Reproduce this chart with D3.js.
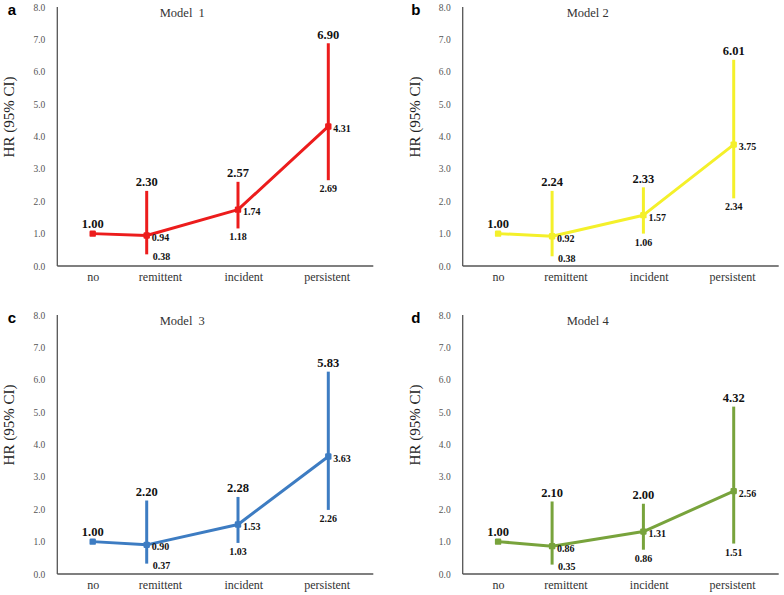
<!DOCTYPE html>
<html>
<head>
<meta charset="utf-8">
<script src="https://cdn.jsdelivr.net/npm/d3@7"></script>
<style>
  html, body { margin: 0; padding: 0; background: #fff; }
  svg { display: block; }
</style>
</head>
<body>
<svg id="chart" width="784" height="595"></svg>
<script>
// ---------------- DATA ----------------
const categories = ["no", "remittent", "incident", "persistent"];
const yTicks = [0, 1, 2, 3, 4, 5, 6, 7, 8];
const panelLetters = ["a", "b", "c", "d"];
const modelTitles = ["Model  1", "Model 2", "Model  3", "Model 4"];
const seriesColors = ["#ec1c1c", "#f4f02a", "#3d7cc2", "#78a33c"];

// hazard ratios (points)
const hrModel1 = [1.00, 0.94, 1.74, 4.31];
const hrModel2 = [1.00, 0.92, 1.57, 3.75];
const hrModel3 = [1.00, 0.90, 1.53, 3.63];
const hrModel4 = [1.00, 0.86, 1.31, 2.56];

// printed CI labels
const upperLabel1 = [null, "2.30", "2.57", "6.90"];
const lowerLabel1 = [null, "0.38", "1.18", "2.69"];
const upperLabel2 = [null, "2.24", "2.33", "6.01"];
const lowerLabel2 = [null, "0.38", "1.06", "2.34"];
const upperLabel3 = [null, "2.20", "2.28", "5.83"];
const lowerLabel3 = [null, "0.37", "1.03", "2.26"];
const upperLabel4 = [null, "2.10", "2.00", "4.32"];
const lowerLabel4 = [null, "0.35", "0.86", "1.51"];

// error-bar extents as drawn in the picture
const barTop1 = [null, 2.32, 2.60, 6.88];
const barBottom1 = [null, 0.36, 1.16, 2.65];
const barTop2 = [null, 2.32, 2.43, 6.37];
const barBottom2 = [null, 0.30, 1.00, 2.09];
const barTop3 = [null, 2.27, 2.38, 6.25];
const barBottom3 = [null, 0.32, 0.96, 1.98];
const barTop4 = [null, 2.24, 2.17, 5.17];
const barBottom4 = [null, 0.29, 0.75, 0.94];

const models = [
  { hr: hrModel1, up: upperLabel1, lo: lowerLabel1, top: barTop1, bot: barBottom1 },
  { hr: hrModel2, up: upperLabel2, lo: lowerLabel2, top: barTop2, bot: barBottom2 },
  { hr: hrModel3, up: upperLabel3, lo: lowerLabel3, top: barTop3, bot: barBottom3 },
  { hr: hrModel4, up: upperLabel4, lo: lowerLabel4, top: barTop4, bot: barBottom4 }
];

// ---------------- LAYOUT ----------------
const panelOrigins = [[57.3, 7], [462.7, 7], [57.3, 315], [462.7, 315]];
const plotW = 316, plotH = 259;
const serif = "'Liberation Serif', 'Times New Roman', serif";
const sans = "'Liberation Sans', Arial, sans-serif";

const svg = d3.select("#chart");

const y = d3.scaleLinear().domain([0, 8]).range([plotH, 0]);
const xPoint = d3.scaleLinear().domain([0, 1, 2, 3]).range([35.4, 89.4, 180.7, 271]);
const xLabel = d3.scaleOrdinal().domain(categories).range([35.4, 102.7, 186, 269.4]);

models.forEach((m, i) => {
  const [ox, oy] = panelOrigins[i];
  const color = seriesColors[i];
  const g = svg.append("g").attr("transform", `translate(${ox},${oy})`);

  // panel letter
  svg.append("text")
    .attr("x", ox - 49.5 + (i % 2 ? -2 : 0)).attr("y", oy + 7.5)
    .attr("font-family", sans).attr("font-weight", "bold").attr("font-size", 15)
    .attr("fill", "#000").text(panelLetters[i]);

  // y axis title
  svg.append("text")
    .attr("transform", `translate(${ox - 43.5 + (i % 2 ? 1 : 0)},${oy + 110}) rotate(-90)`)
    .attr("text-anchor", "middle")
    .attr("font-family", serif).attr("font-size", 15).attr("fill", "#222")
    .text("HR (95% CI)");

  // y axis
  const ya = g.append("g")
    .call(d3.axisLeft(y).tickValues(yTicks).tickFormat(d3.format(".1f")).tickSize(0).tickPadding(12));
  ya.select(".domain").remove();
  ya.selectAll("text").attr("font-family", serif).attr("font-size", 9.5).attr("fill", "#555");

  // x axis labels
  const xa = g.append("g").attr("transform", `translate(0,${plotH})`)
    .call(d3.axisBottom(xLabel).tickSize(0).tickPadding(6.5));
  xa.select(".domain").remove();
  xa.selectAll("text").attr("font-family", serif).attr("font-size", 12).attr("fill", "#333");

  // axis lines
  g.append("line").attr("x1", 0).attr("x2", 0).attr("y1", y(8)).attr("y2", y(0))
    .attr("stroke", "#555").attr("stroke-width", 1.3);
  g.append("line").attr("x1", 0).attr("x2", plotW).attr("y1", y(0)).attr("y2", y(0))
    .attr("stroke", "#555").attr("stroke-width", 1.3);

  // model title
  g.append("text").attr("x", 125).attr("y", 10)
    .attr("text-anchor", "middle").attr("font-family", serif).attr("font-size", 12.5)
    .attr("fill", "#333").attr("xml:space", "preserve").style("white-space", "pre")
    .text(modelTitles[i]);

  // error bars
  categories.forEach((c, k) => {
    if (m.top[k] == null) return;
    g.append("line")
      .attr("x1", xPoint(k)).attr("x2", xPoint(k))
      .attr("y1", y(m.top[k])).attr("y2", y(m.bot[k]))
      .attr("stroke", color).attr("stroke-width", 3);
  });

  // HR line
  const line = d3.line().x((d, k) => xPoint(k)).y(d => y(d));
  g.append("path").datum(m.hr).attr("d", line)
    .attr("fill", "none").attr("stroke", color).attr("stroke-width", 3)
    .attr("stroke-linejoin", "round");

  // markers
  g.selectAll("rect.mk").data(m.hr).join("rect").attr("class", "mk")
    .attr("x", (d, k) => xPoint(k) - 3.2).attr("y", d => y(d) - 3.2)
    .attr("width", 6.4).attr("height", 6.4).attr("rx", 1.2)
    .attr("fill", color);

  // labels
  const lab = g.append("g").attr("font-family", serif).attr("font-weight", "bold").attr("fill", "#111");
  m.hr.forEach((v, k) => {
    const xv = xPoint(k), yv = y(v);
    if (k === 0) {
      lab.append("text").attr("x", xv).attr("y", yv - 5.5)
        .attr("text-anchor", "middle").attr("font-size", 12.5).text(d3.format(".2f")(v));
      return;
    }
    // point label
    lab.append("text").attr("x", xv + 5).attr("y", yv + 5.5)
      .attr("font-size", 10).text(d3.format(".2f")(v));
    // upper CI label
    lab.append("text").attr("x", xv).attr("y", y(m.top[k]) - 4.5)
      .attr("text-anchor", "middle").attr("font-size", 12.5).text(m.up[k]);
    // lower CI label
    if (categories[k] === "remittent") {
      lab.append("text").attr("x", xv + 6).attr("y", y(m.bot[k]) + 5.5)
        .attr("font-size", 10).text(m.lo[k]);
    } else {
      lab.append("text").attr("x", xv).attr("y", y(m.bot[k]) + 12)
        .attr("text-anchor", "middle").attr("font-size", 10).text(m.lo[k]);
    }
  });
});
</script>
</body>
</html>
